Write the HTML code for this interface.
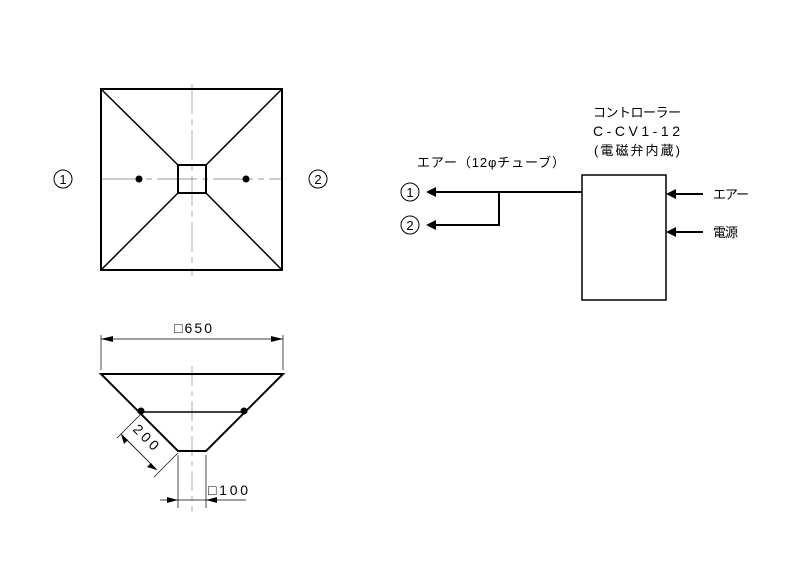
<!DOCTYPE html>
<html><head><meta charset="utf-8"><style>
html,body{margin:0;padding:0;background:#fff;width:800px;height:580px;overflow:hidden}
text{font-family:"Liberation Sans","Noto Sans CJK JP",sans-serif;font-size:13px;fill:#000}
</style></head><body>
<svg width="800" height="580" viewBox="0 0 800 580" xmlns="http://www.w3.org/2000/svg">
<g stroke="#000" fill="none">
<line x1="192" y1="84" x2="192" y2="276" stroke="#999" stroke-width="0.8" stroke-dasharray="30,5,6,5"/>
<line x1="101" y1="179" x2="282" y2="179" stroke="#777" stroke-width="0.8" stroke-dasharray="40,5,6,5"/>
<rect x="101" y="89" width="181" height="181" stroke-width="2"/>
<rect x="178" y="165" width="28" height="28" stroke-width="2"/>
<path d="M101 89L178 165M282 89L206 165M101 270L178 193M282 270L206 193" stroke-width="1.5"/>
<line x1="192" y1="366" x2="192" y2="512" stroke="#999" stroke-width="0.8" stroke-dasharray="20,5,5,5"/>
<path d="M101 374H283L206 451H178Z" stroke-width="2"/>
<line x1="142" y1="412" x2="243" y2="412" stroke-width="1.5"/>
<path d="M101 370V335M283 370V335" stroke-width="0.7"/>
<line x1="101" y1="339" x2="283" y2="339" stroke-width="0.8"/>
<path d="M178 455V508M206 455V508" stroke-width="0.7"/>
<line x1="160" y1="500" x2="246" y2="500" stroke-width="0.8"/>
<path d="M141 414L117 438M178 453L154 477" stroke-width="0.7"/>
<line x1="121" y1="434" x2="157" y2="470" stroke-width="0.8"/>
<rect x="582" y="175" width="84" height="125" stroke-width="1.5"/>
<path d="M436 192H582M499 192V225H436M676 194H703M676 232H703" stroke-width="2"/>
</g>
<g fill="#000">
<circle cx="139" cy="179" r="3.5"/><circle cx="246" cy="179" r="3.5"/>
<circle cx="141" cy="411" r="3.5"/><circle cx="244" cy="411" r="3.5"/>
<path d="M101 339l12 -3v6zM283 339l-12 -3v6z"/>
<path d="M178 500l-11 -3v6zM206 500l11 -3v6z"/>
<path d="M121 434l3 10 4-4zM157 470l-10 -3 4-4z"/>
<path d="M426 192l10 -5v10zM426 225l10 -5v10zM666 194l10 -5v10zM666 232l10 -5v10z"/>
</g>
<g fill="none" stroke="#000" stroke-width="1">
<circle cx="63" cy="179" r="9"/><circle cx="318" cy="179" r="9"/>
<circle cx="410" cy="192" r="9"/><circle cx="410" cy="225" r="9"/>
</g>
<g style="font-size:13px" text-anchor="middle">
<text x="63" y="184">1</text><text x="318" y="184">2</text>
<text x="410" y="197">1</text><text x="410" y="230">2</text>
</g>
<text x="174" y="333" textLength="38" style="font-size:14px">□650</text>
<text x="208" y="495" textLength="40" style="font-size:14px">□100</text>
<text x="0" y="0" transform="translate(132,430) rotate(45)" textLength="30" style="font-size:14px">200</text>
<text x="593" y="117" textLength="88">コントローラー</text>
<text x="593" y="136" textLength="87" style="font-size:14px">C-CV1-12</text>
<text x="594" y="155" textLength="86">(電磁弁内蔵)</text>
<text x="417" y="167" textLength="148">エアー（12φチューブ）</text>
<text x="713" y="199" textLength="36">エアー</text>
<text x="713" y="237" textLength="25">電源</text>
</svg>
</body></html>
